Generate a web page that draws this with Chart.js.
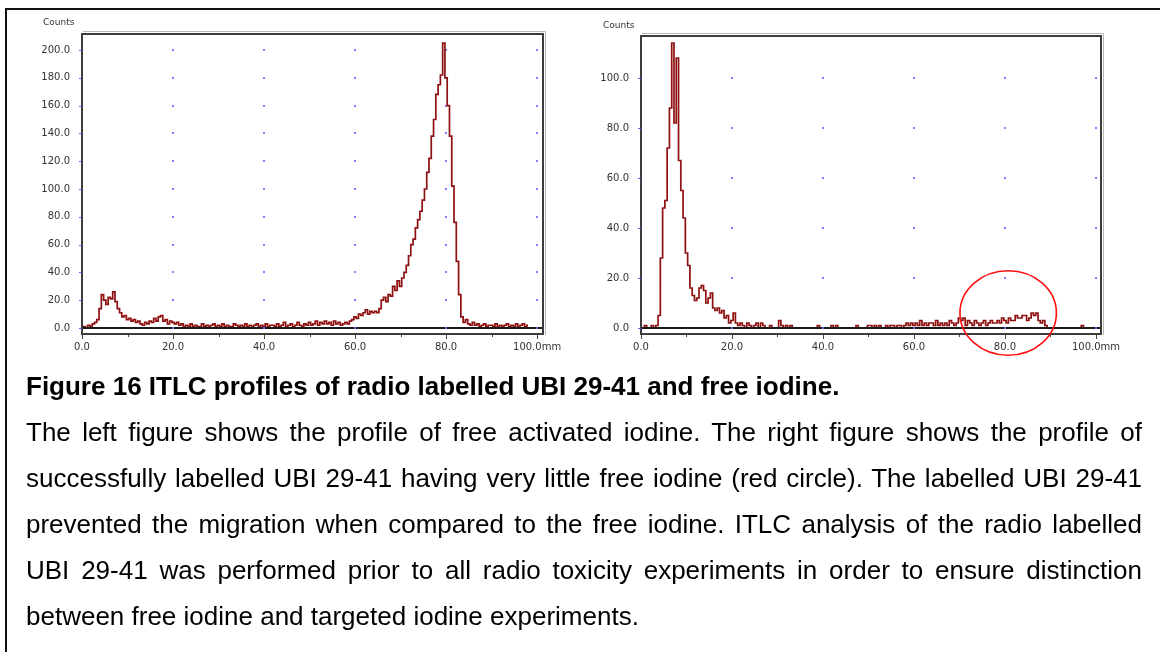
<!DOCTYPE html>
<html>
<head>
<meta charset="utf-8">
<script src="https://cdn.jsdelivr.net/npm/chart.js@4.4.1/dist/chart.umd.min.js"></script>
<style>
html,body{margin:0;padding:0;background:#fff;width:1160px;height:652px;overflow:hidden;}
#page{position:relative;width:1160px;height:652px;background:#fff;}
.ruleTop{position:absolute;left:5px;top:8px;width:1155px;height:2px;background:#111;}
.ruleLeft{position:absolute;left:5px;top:8px;width:2px;height:644px;background:#111;}
canvas{position:absolute;top:0;}
#leftChart{left:0;}
#rightChart{left:580px;}
#caption{position:absolute;left:26px;top:363px;width:1116px;font-family:"Liberation Sans",Arial,sans-serif;font-size:26px;line-height:46px;color:#000;}
#caption .title{font-weight:bold;}
#caption .j{text-align:justify;text-align-last:justify;}
</style>
</head>
<body>
<div id="page">
  <div class="ruleTop"></div>
  <div class="ruleLeft"></div>
  <canvas id="leftChart" width="580" height="380"></canvas>
  <canvas id="rightChart" width="580" height="380"></canvas>
  <div id="caption">
    <div class="title">Figure 16 ITLC profiles of radio labelled UBI 29-41 and free iodine.</div>
    <div class="j">The left figure shows the profile of free activated iodine. The right figure shows the profile of</div>
    <div class="j">successfully labelled UBI 29-41 having very little free iodine (red circle). The labelled UBI 29-41</div>
    <div class="j">prevented the migration when compared to the free iodine. ITLC analysis of the radio labelled</div>
    <div class="j">UBI 29-41 was performed prior to all radio toxicity experiments in order to ensure distinction</div>
    <div>between free iodine and targeted iodine experiments.</div>
  </div>
</div>
<script>
// ---------- DATA ----------
// scan positions along the ITLC strip (mm)
const positionsMm = [
  0,0.5,1,1.5,2,2.5,3,3.5,4,4.5, 5,5.5,6,6.5,7,7.5,8,8.5,9,9.5,
  10,10.5,11,11.5,12,12.5,13,13.5,14,14.5, 15,15.5,16,16.5,17,17.5,18,18.5,19,19.5,
  20,20.5,21,21.5,22,22.5,23,23.5,24,24.5, 25,25.5,26,26.5,27,27.5,28,28.5,29,29.5,
  30,30.5,31,31.5,32,32.5,33,33.5,34,34.5, 35,35.5,36,36.5,37,37.5,38,38.5,39,39.5,
  40,40.5,41,41.5,42,42.5,43,43.5,44,44.5, 45,45.5,46,46.5,47,47.5,48,48.5,49,49.5,
  50,50.5,51,51.5,52,52.5,53,53.5,54,54.5, 55,55.5,56,56.5,57,57.5,58,58.5,59,59.5,
  60,60.5,61,61.5,62,62.5,63,63.5,64,64.5, 65,65.5,66,66.5,67,67.5,68,68.5,69,69.5,
  70,70.5,71,71.5,72,72.5,73,73.5,74,74.5, 75,75.5,76,76.5,77,77.5,78,78.5,79,79.5,
  80,80.5,81,81.5,82,82.5,83,83.5,84,84.5, 85,85.5,86,86.5,87,87.5,88,88.5,89,89.5,
  90,90.5,91,91.5,92,92.5,93,93.5,94,94.5, 95,95.5,96,96.5,97,97.5,98
];

// left: free activated iodine (counts)
const freeIodineCounts = [
  0,1,0,2,1,3,4,6,14,24, 20,17,22,21,26,19,14,11,8,9,
  6,7,5,6,4,5,3,2,4,3, 5,4,7,5,8,9,5,6,3,5,
  4,3,4,2,3,1,2,1,3,1, 2,1,1,3,1,2,1,2,3,1,
  2,1,3,1,2,1,1,3,2,1, 2,1,3,1,2,1,2,3,1,2,
  1,3,1,2,2,1,3,1,2,4, 1,2,3,1,2,4,2,1,3,2,
  4,2,3,5,2,4,3,5,3,4, 2,5,3,4,2,3,4,3,5,6,
  8,7,10,9,11,13,10,12,11,12, 11,14,20,22,19,24,23,30,27,34,
  30,36,40,45,52,60,64,72,78,84, 92,100,112,122,138,150,168,175,182,205,
  180,160,138,102,76,48,24,8,4,6, 3,2,4,2,3,1,2,3,1,2,
  2,1,3,1,2,1,2,3,1,2, 1,3,1,2,3,1,2
];

// right: radio labelled UBI 29-41 (counts)
const labelledUbiCounts = [
  0,0,1,0,0,1,0,1,5,28, 48,51,72,88,114,82,108,67,55,44,
  30,25,16,13,11,12,16,17,15,10, 12,14,8,7,8,6,7,4,5,2,
  3,6,2,1,2,1,0,2,1,0, 1,2,0,2,1,0,0,1,0,0,
  0,3,1,0,1,0,1,0,0,0, 0,0,0,0,0,0,0,0,1,0,
  0,0,0,0,1,0,1,0,0,0, 0,0,0,0,0,1,0,0,0,0,
  1,1,0,1,0,1,0,0,1,0, 1,1,0,1,1,0,1,2,1,2,
  1,2,1,3,1,2,1,2,2,1, 3,1,2,1,2,1,3,2,1,2,
  4,3,4,1,3,2,1,3,2,1, 2,3,1,2,3,2,2,3,2,4,
  3,2,4,3,3,5,4,4,5,5, 3,4,6,5,6,3,2,3,1,0,
  0,0,0,0,0,0,0,0,0,0, 0,0,0,0,1,0,0
];

const xTickValues = [0, 20, 40, 60, 80, 100];
const xTickLabels = ["0.0", "20.0", "40.0", "60.0", "80.0", "100.0mm"];
const xMinorTickValues = [10, 30, 50, 70, 90];
const leftYTickValues = [0, 20, 40, 60, 80, 100, 120, 140, 160, 180, 200];
const leftYTickLabels = ["0.0","20.0","40.0","60.0","80.0","100.0","120.0","140.0","160.0","180.0","200.0"];
const rightYTickValues = [0, 20, 40, 60, 80, 100];
const rightYTickLabels = ["0.0","20.0","40.0","60.0","80.0","100.0"];
const yAxisTitle = "Counts";
// red circle annotation (data units: centre mm / counts, half-width mm, half-height counts)
const circleNote = {xMm: 80.7, yCounts: 6, halfWidthMm: 10.6, halfHeightCounts: 16.9};

// ---------- DRAWING ----------
Chart.defaults.font.family = '"DejaVu Sans", Verdana, sans-serif';
Chart.defaults.font.size = 10;
Chart.defaults.color = '#333';

const profilePlugin = {
  id: 'profileFrame',
  beforeDatasetsDraw(chart, args, o) {
    const {ctx, scales: {x, y}} = chart;
    ctx.save();
    ctx.fillStyle = 'rgba(105,105,255,0.85)';
    for (const xv of xTickValues) {
      if (xv === 0) continue;
      for (const yv of o.yTicks) {
        const px = Math.round(x.getPixelForValue(xv));
        const py = Math.round(y.getPixelForValue(yv));
        ctx.fillRect(px - 1, py - 1, 2, 2);
      }
    }
    ctx.restore();
  },
  afterDatasetsDraw(chart, args, o) {
    const {ctx, chartArea: a, scales: {x, y}} = chart;
    ctx.save();
    // zero baseline over the trace
    const y0 = y.getPixelForValue(0);
    ctx.strokeStyle = '#1a1a1a';
    ctx.lineWidth = 2;
    ctx.beginPath(); ctx.moveTo(a.left, y0); ctx.lineTo(a.right, y0); ctx.stroke();
    // blue dots on baseline
    ctx.fillStyle = 'rgba(105,105,255,0.9)';
    for (const xv of xTickValues) {
      if (xv === 0) continue;
      ctx.fillRect(Math.round(x.getPixelForValue(xv)) - 1, Math.round(y0) - 1, 2, 2);
    }
    // frame
    ctx.strokeStyle = '#b8b8b8';
    ctx.lineWidth = 1;
    ctx.beginPath();
    ctx.moveTo(a.left + 1, a.top - 2.5); ctx.lineTo(a.right + 2.5, a.top - 2.5); ctx.lineTo(a.right + 2.5, a.bottom + 1);
    ctx.stroke();
    ctx.strokeStyle = '#3c3c3c';
    ctx.lineWidth = 2;
    ctx.strokeRect(a.left, a.top, a.right - a.left, a.bottom - a.top);
    // x tick marks
    ctx.strokeStyle = '#444';
    ctx.lineWidth = 1;
    for (const xv of xTickValues) {
      const px = Math.round(x.getPixelForValue(xv)) + 0.5;
      ctx.beginPath(); ctx.moveTo(px, a.bottom); ctx.lineTo(px, a.bottom + 5); ctx.stroke();
    }
    for (const xv of xMinorTickValues) {
      const px = Math.round(x.getPixelForValue(xv)) + 0.5;
      ctx.beginPath(); ctx.moveTo(px, a.bottom); ctx.lineTo(px, a.bottom + 3); ctx.stroke();
    }
    // y tick marks (blue)
    ctx.strokeStyle = 'rgba(80,80,255,0.9)';
    for (const yv of o.yTicks) {
      const py = Math.round(y.getPixelForValue(yv)) + 0.5;
      ctx.beginPath(); ctx.moveTo(a.left - 3, py); ctx.lineTo(a.left, py); ctx.stroke();
    }
    // axis title
    ctx.fillStyle = '#333';
    ctx.font = '9px "DejaVu Sans", Verdana, sans-serif';
    ctx.textBaseline = 'middle';
    ctx.textAlign = 'left';
    ctx.fillText(yAxisTitle, a.left - o.titleDx, a.top - o.titleDy);
    // circle note
    if (o.circle) {
      const c = o.circle;
      const cx = x.getPixelForValue(c.xMm), cy = y.getPixelForValue(c.yCounts);
      const rx = x.getPixelForValue(c.xMm + c.halfWidthMm) - cx;
      const ry = cy - y.getPixelForValue(c.yCounts + c.halfHeightCounts);
      ctx.strokeStyle = '#ff1010';
      ctx.lineWidth = 1.6;
      ctx.beginPath(); ctx.ellipse(cx, cy, rx, ry, 0, 0, Math.PI * 2); ctx.stroke();
    }
    ctx.restore();
  }
};

function buildProfile(canvasId, counts, cfg) {
  const points = positionsMm.map((mm, i) => ({x: mm, y: counts[i]}));
  return new Chart(document.getElementById(canvasId), {
    type: 'line',
    data: {datasets: [{
      data: points,
      borderColor: '#8e1010',
      borderWidth: 1.7,
      pointRadius: 0,
      stepped: 'middle',
      fill: false
    }]},
    options: {
      responsive: false,
      animation: false,
      events: [],
      layout: {padding: cfg.padding},
      plugins: {
        legend: {display: false},
        tooltip: {enabled: false},
        profileFrame: {yTicks: cfg.yTicks, titleDx: cfg.titleDx, titleDy: cfg.titleDy, circle: cfg.circle || null}
      },
      scales: {
        x: {
          type: 'linear',
          min: 0,
          max: cfg.xMax,
          grid: {display: false},
          border: {display: false},
          afterBuildTicks: s => { s.ticks = xTickValues.map(v => ({value: v})); },
          afterFit: s => { s.height = 24; },
          ticks: {
            autoSkip: false, maxRotation: 0, padding: -1,
            color: '#333', font: {size: 10},
            callback: (v, i) => xTickLabels[i]
          }
        },
        y: {
          type: 'linear',
          min: cfg.yMin,
          max: cfg.yMax,
          grid: {display: false},
          border: {display: false},
          afterBuildTicks: s => { s.ticks = cfg.yTicks.map(v => ({value: v})); },
          afterFit: s => { s.width = 40; },
          ticks: {
            autoSkip: false, padding: 4,
            color: '#333', font: {size: 10},
            callback: (v, i) => cfg.yLabels[i]
          }
        }
      }
    },
    plugins: [profilePlugin]
  });
}

buildProfile('leftChart', freeIodineCounts, {
  padding: {left: 42, top: 34, right: 37, bottom: 22},
  xMax: 101.3, yMin: -4.3, yMax: 211.5,
  yTicks: leftYTickValues, yLabels: leftYTickLabels,
  titleDx: 39, titleDy: 11
});

buildProfile('rightChart', labelledUbiCounts, {
  padding: {left: 21, top: 36, right: 59, bottom: 22},
  xMax: 101.1, yMin: -2.4, yMax: 116.8,
  yTicks: rightYTickValues, yLabels: rightYTickLabels,
  titleDx: 38, titleDy: 10,
  circle: circleNote
});
</script>
</body>
</html>
